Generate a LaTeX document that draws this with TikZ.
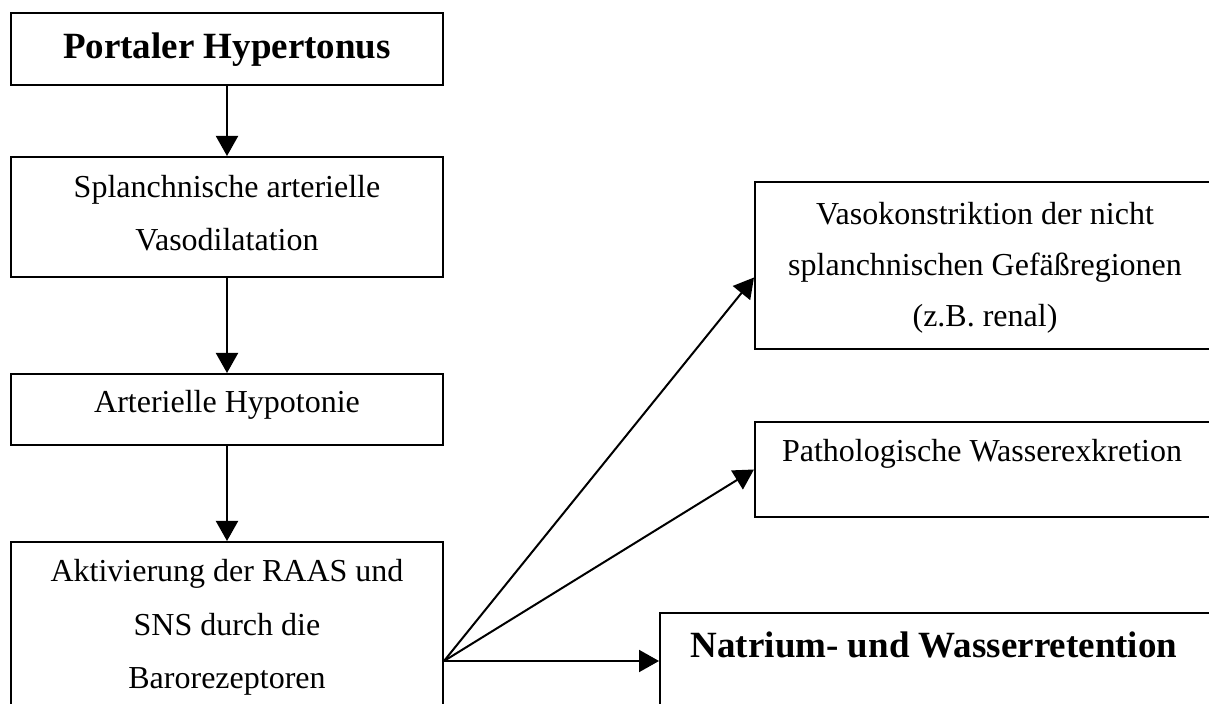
\documentclass[tikz,border=0pt]{standalone}
\usepackage{fontspec}
\setmainfont{Liberation Serif}
\usetikzlibrary{arrows.meta,calc,fit}
\begin{document}
\begin{tikzpicture}[x=0.5pt,y=-0.5pt,
  stepbox/.style={draw,line width=1pt,rectangle,inner sep=0pt},
  txt/.style={font=\fontsize{16}{26.5}\selectfont,align=center,inner sep=0pt,anchor=base},
  txtr/.style={font=\fontsize{16}{25.5}\selectfont,align=center,inner sep=0pt,anchor=base},
  bold/.style={font=\fontsize{18.5}{22}\selectfont\bfseries,inner sep=0pt,anchor=base},
  flow/.style={line width=1pt,-{Triangle[length=10pt,width=11pt]}}]
\useasboundingbox (0,0) rectangle (1209,704);
\clip (0,0) rectangle (1209,704);

% left column of boxes
\node[stepbox,fit={(11,13) (443,85)}] (b1) {};
\node[stepbox,fit={(11,157) (443,277)}] (b2) {};
\node[stepbox,fit={(11,374) (443,445)}] (b3) {};
\node[stepbox,fit={(11,542) (443,780)}] (b4) {};

% right column of boxes
\node[stepbox,fit={(755,182) (1230,349)}] (b5) {};
\node[stepbox,fit={(755,422) (1230,517)}] (b6) {};
\node[stepbox,fit={(660,613) (1230,709)}] (b7) {};

% box texts (multi-line nodes are placed by the baseline of their last line)
\node[bold] (t1) at (227,59) {Portaler Hypertonus};
\node[txt] (t2) at (227,251) {Splanchnische arterielle\\Vasodilatation};
\node[txt] (t3) at (227,413) {Arterielle Hypotonie};
\node[txt] (t4) at (227,688) {Aktivierung der RAAS und\\SNS durch die\\Barorezeptoren};
\node[txtr] (t5) at (985,327) {Vasokonstriktion der nicht\\splanchnischen Gefäßregionen\\(z.B. renal)};
\node[txt] (t6) at (982,462) {Pathologische Wasserexkretion};
\node[bold] (t7) at (934,657) {Natrium- und Wasserretention};

% connectors
\draw[flow] (b1) -- (b2);
\draw[flow] (b2) -- (b3);
\draw[flow] (b3) -- (b4.north);
\draw[flow] (b4.east) -- ($(b5.west)+(0,12)$);
\draw[flow] (b4.east) -- (b6.west);
\draw[flow] (b4.east) -- (b7.west);
\end{tikzpicture}
\end{document}
